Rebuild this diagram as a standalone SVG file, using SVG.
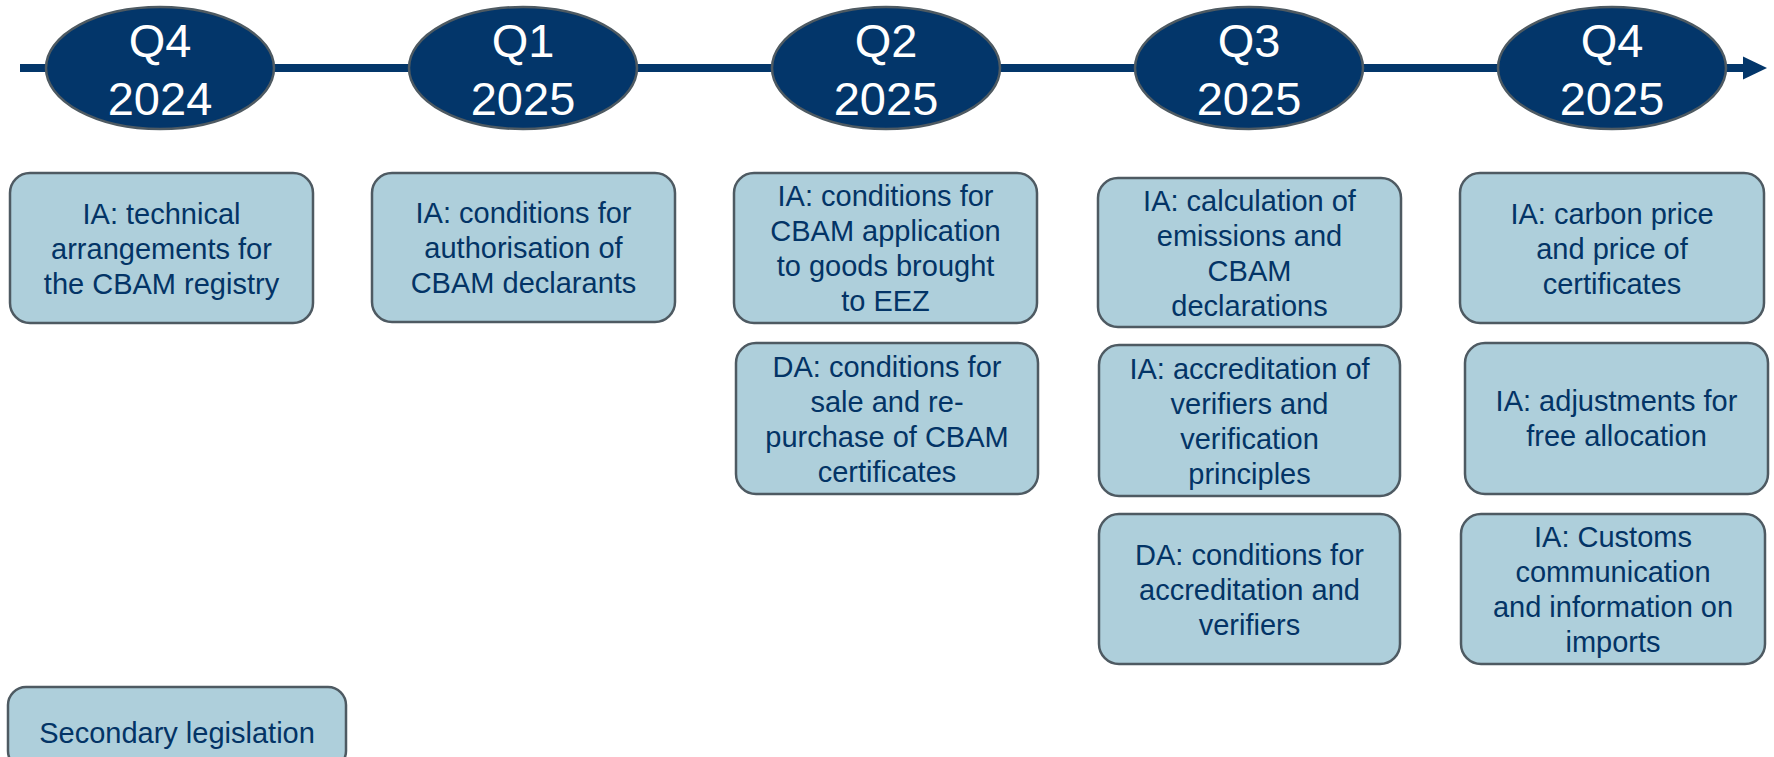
<svg xmlns="http://www.w3.org/2000/svg" width="1774" height="757" viewBox="0 0 1774 757">
<style>
.q ellipse{fill:#03366a;stroke:#4e5a62;stroke-width:2.5}
.q text{fill:#ffffff;font-family:"Liberation Sans",Arial,sans-serif;font-size:47px;text-anchor:middle}
.b rect{fill:#aecfdb;stroke:#4e5a62;stroke-width:2.5}
.b text{fill:#033466;font-family:"Liberation Sans",Arial,sans-serif;font-size:29px;text-anchor:middle}
</style>
<rect width="1774" height="757" fill="#ffffff"/>
<g id="connectors">
<line x1="20" y1="68" x2="1745" y2="68" stroke="#03366a" stroke-width="8"/>
<polygon points="1743,56.5 1767,68 1743,79.5" fill="#03366a"/>
</g>
<g id="q4-2024" class="q"><ellipse cx="160" cy="68" rx="114" ry="61"/><text x="160" y="57">Q4</text><text x="160" y="115">2024</text></g>
<g id="q1-2025" class="q"><ellipse cx="523" cy="68" rx="114" ry="61"/><text x="523" y="57">Q1</text><text x="523" y="115">2025</text></g>
<g id="q2-2025" class="q"><ellipse cx="886" cy="68" rx="114" ry="61"/><text x="886" y="57">Q2</text><text x="886" y="115">2025</text></g>
<g id="q3-2025" class="q"><ellipse cx="1249" cy="68" rx="114" ry="61"/><text x="1249" y="57">Q3</text><text x="1249" y="115">2025</text></g>
<g id="q4-2025" class="q"><ellipse cx="1612" cy="68" rx="114" ry="61"/><text x="1612" y="57">Q4</text><text x="1612" y="115">2025</text></g>

<g id="box-registry" class="b"><rect x="10" y="173" width="303" height="150" rx="20"/>
<text x="161.5" y="223.5">IA: technical</text><text x="161.5" y="258.5">arrangements for</text><text x="161.5" y="293.5">the CBAM registry</text></g>
<g id="box-authorisation" class="b"><rect x="372" y="173" width="303" height="149" rx="20"/>
<text x="523.5" y="223">IA: conditions for</text><text x="523.5" y="258">authorisation of</text><text x="523.5" y="293">CBAM declarants</text></g>
<g id="box-eez" class="b"><rect x="734" y="173" width="303" height="150" rx="20"/>
<text x="885.5" y="206">IA: conditions for</text><text x="885.5" y="241">CBAM application</text><text x="885.5" y="276">to goods brought</text><text x="885.5" y="311">to EEZ</text></g>
<g id="box-sale" class="b"><rect x="736" y="343" width="302" height="151" rx="20"/>
<text x="887" y="376.5">DA: conditions for</text><text x="887" y="411.5">sale and re-</text><text x="887" y="446.5">purchase of CBAM</text><text x="887" y="481.5">certificates</text></g>
<g id="box-calculation" class="b"><rect x="1098" y="178" width="303" height="149" rx="20"/>
<text x="1249.5" y="210.5">IA: calculation of</text><text x="1249.5" y="245.5">emissions and</text><text x="1249.5" y="280.5">CBAM</text><text x="1249.5" y="315.5">declarations</text></g>
<g id="box-accreditation" class="b"><rect x="1099" y="345" width="301" height="151" rx="20"/>
<text x="1249.5" y="378.5">IA: accreditation of</text><text x="1249.5" y="413.5">verifiers and</text><text x="1249.5" y="448.5">verification</text><text x="1249.5" y="483.5">principles</text></g>
<g id="box-da-accreditation" class="b"><rect x="1099" y="514" width="301" height="150" rx="20"/>
<text x="1249.5" y="564.5">DA: conditions for</text><text x="1249.5" y="599.5">accreditation and</text><text x="1249.5" y="634.5">verifiers</text></g>
<g id="box-carbon-price" class="b"><rect x="1460" y="173" width="304" height="150" rx="20"/>
<text x="1612" y="223.5">IA: carbon price</text><text x="1612" y="258.5">and price of</text><text x="1612" y="293.5">certificates</text></g>
<g id="box-free-allocation" class="b"><rect x="1465" y="343" width="303" height="151" rx="20"/>
<text x="1616.5" y="411">IA: adjustments for</text><text x="1616.5" y="446">free allocation</text></g>
<g id="box-customs" class="b"><rect x="1461" y="514" width="304" height="150" rx="20"/>
<text x="1613" y="547">IA: Customs</text><text x="1613" y="582">communication</text><text x="1613" y="617">and information on</text><text x="1613" y="652">imports</text></g>
<g id="legend" class="b"><rect x="8" y="687" width="338" height="82" rx="18"/>
<text x="177" y="743">Secondary legislation</text></g>
</svg>
